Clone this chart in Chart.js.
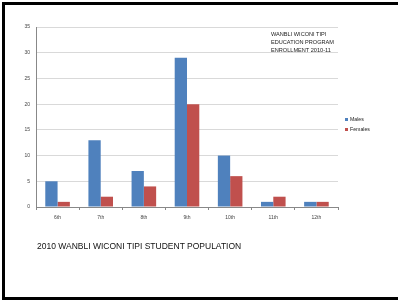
<!DOCTYPE html>
<html>
<head>
<meta charset="utf-8">
<script src="https://cdn.jsdelivr.net/npm/chart.js@4"></script>
<style>
  html, body { margin: 0; background: #fff; overflow: hidden; font-family: "Liberation Sans", Arial, sans-serif; }
  .edge { position: absolute; background: #000; }
  #chart { position: absolute; left: 0; top: 0; }
  .txt { position: absolute; color: #222; white-space: nowrap; }
  #inTitle { left: 271px; top: 30px; font-size: 5.6px; line-height: 8px; }
  #caption { left: 37px; top: 241px; font-size: 8.5px; color: #111; }
  #legend { left: 345px; top: 114px; font-size: 5.2px; line-height: 10px; }
  #legend span.sw { display: inline-block; width: 3px; height: 3px; margin-right: 2px; vertical-align: middle; }
</style>
</head>
<body>
<div class="edge" style="left:2px; top:2px; width:500px; height:3px"></div>
<div class="edge" style="left:2px; top:2px; width:3px; height:298px"></div>
<div class="edge" style="left:2px; top:297px; width:500px; height:3px"></div>
<canvas id="chart" width="398" height="301"></canvas>
<div class="txt" id="inTitle">WANBLI WICONI TIPI<br>EDUCATION PROGRAM<br>ENROLLMENT 2010-11</div>
<div class="txt" id="legend"></div>
<div class="txt" id="caption">2010 WANBLI WICONI TIPI STUDENT POPULATION</div>
<script>
const grades = ['6th', '7th', '8th', '9th', '10th', '11th', '12th'];
const males = [5, 13, 7, 29, 10, 1, 1];
const females = [1, 2, 4, 20, 6, 2, 1];
const yTicks = [0, 5, 10, 15, 20, 25, 30, 35];

const series = [
    { label: 'Males', data: males, color: '#4F81BD' },
    { label: 'Females', data: females, color: '#C0504D' }
];

const tickFont = { family: 'Liberation Sans', size: 5 };

new Chart(document.getElementById('chart'), {
    type: 'bar',
    data: {
        labels: grades,
        datasets: series.map(s => ({
            label: s.label, data: s.data, backgroundColor: s.color,
            categoryPercentage: 0.57, barPercentage: 1
        }))
    },
    options: {
        responsive: false, animation: false, devicePixelRatio: 1,
        layout: { padding: { left: 0, top: 27, right: 60, bottom: 0 } },
        plugins: { legend: { display: false }, tooltip: { enabled: false } },
        scales: {
            y: {
                min: 0, max: 35,
                afterBuildTicks: s => { s.ticks = yTicks.map(v => ({ value: v })); },
                afterFit: s => { s.width = 36; },
                ticks: { font: tickFont, color: '#444', padding: 6 },
                grid: { color: '#d9d9d9', drawTicks: false },
                border: { color: '#888' }
            },
            x: {
                afterFit: s => { s.height = 94; },
                ticks: { font: tickFont, color: '#444', padding: 5 },
                grid: { offset: true, drawOnChartArea: false, tickLength: 3, color: '#888' },
                border: { color: '#888' }
            }
        }
    }
});

document.getElementById('legend').innerHTML = series.map(s =>
    `<div><span class="sw" style="background:${s.color}"></span>${s.label}</div>`).join('');
</script>
</body>
</html>
